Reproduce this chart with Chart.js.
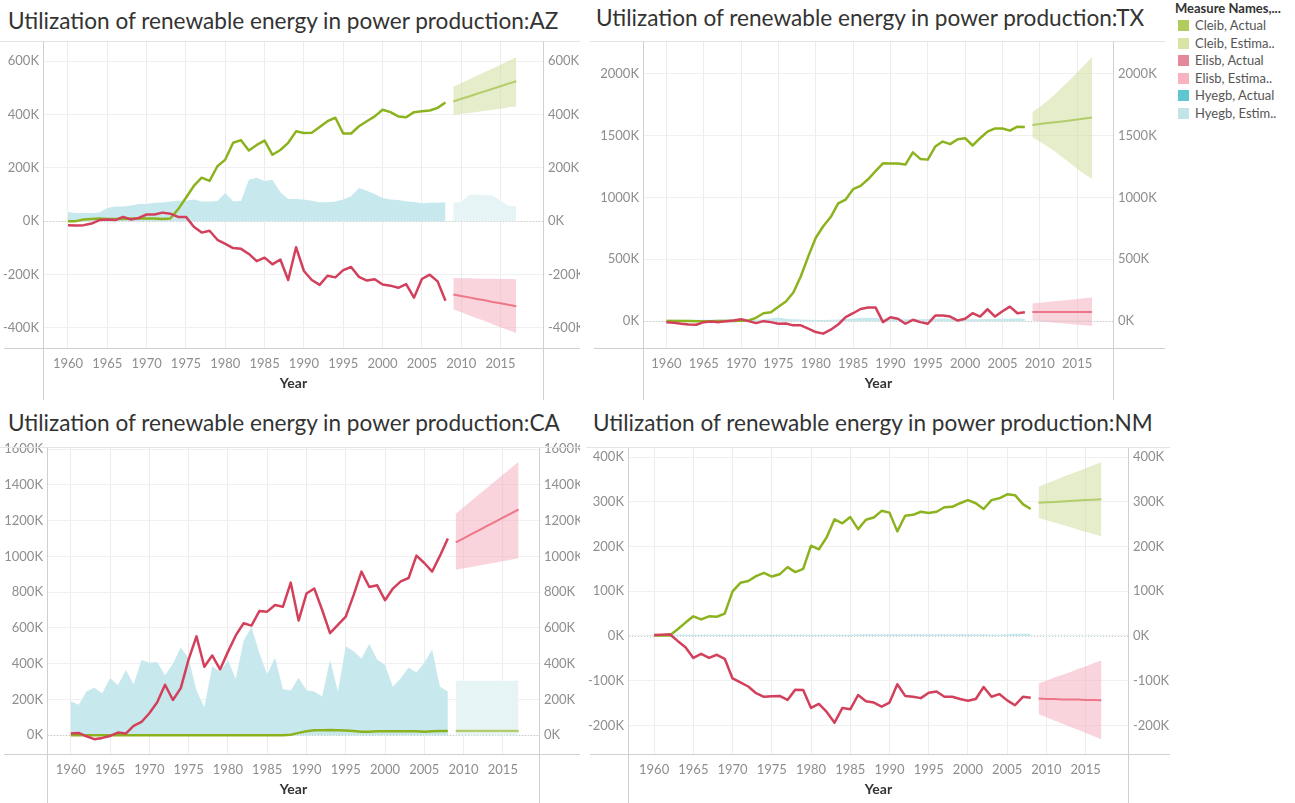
<!DOCTYPE html>
<html>
<head>
<meta charset="utf-8">
<title>Utilization of renewable energy in power production</title>
<script src="https://cdn.jsdelivr.net/npm/chart.js@4.4.1/dist/chart.umd.min.js"></script>
<style>
  body { margin: 0; width: 1295px; height: 803px; overflow: hidden; background: #fff; position: relative; font-family: Lato, 'Open Sans', sans-serif; }
  .title { position: absolute; font-size: 22.6px; line-height: 26px; color: #333; white-space: nowrap; }
  canvas { position: absolute; }
  #legend { position: absolute; left: 1175px; top: 0px; font-size: 13px; color: #555; }
  #legend .head { font-weight: bold; color: #333; height: 17px; line-height: 17px; }
  #legend .item { height: 17.5px; line-height: 17.5px; white-space: nowrap; }
  #legend .sw { display: inline-block; width: 11px; height: 11px; margin: 0 6px 0 3px; vertical-align: -1px; }
</style>
</head>
<body>
<div class="title" style="left:8px; top:8px;">Utilization of renewable energy in power production:AZ</div>
<div class="title" style="left:596px; top:5px;">Utilization of renewable energy in power production:TX</div>
<div class="title" style="left:8px; top:410px;">Utilization of renewable energy in power production:CA</div>
<div class="title" style="left:593px; top:410px;">Utilization of renewable energy in power production:NM</div>
<canvas id="azChart" width="580" height="371" style="left:0px; top:29px;"></canvas>
<canvas id="txChart" width="575" height="371" style="left:590px; top:29px;"></canvas>
<canvas id="caChart" width="580" height="371" style="left:0px; top:435px;"></canvas>
<canvas id="nmChart" width="584" height="371" style="left:586px; top:435px;"></canvas>
<div id="legend"></div>
<script>
// Years
const years = [1960, 1961, 1962, 1963, 1964, 1965, 1966, 1967, 1968, 1969,
  1970, 1971, 1972, 1973, 1974, 1975, 1976, 1977, 1978, 1979,
  1980, 1981, 1982, 1983, 1984, 1985, 1986, 1987, 1988, 1989,
  1990, 1991, 1992, 1993, 1994, 1995, 1996, 1997, 1998, 1999,
  2000, 2001, 2002, 2003, 2004, 2005, 2006, 2007, 2008];
const estYears = [2009, 2010, 2011, 2012, 2013, 2014, 2015, 2016, 2017];
const yearTicks = [1960, 1965, 1970, 1975, 1980, 1985, 1990, 1995, 2000, 2005, 2010, 2015];

// AZ (values in thousands)
const azCleib = [0, 0, 6, 8, 10, 8, 8, 8, 10, 10, 10, 10, 8, 10, 44, 88, 132, 163, 151, 206,
  231, 294, 304, 265, 286, 302, 249, 267, 294, 337, 331, 332, 353, 375, 388, 329, 329, 356, 375, 393,
  418, 409, 393, 390, 409, 412, 415, 425, 445];
const azElisb = [-15, -16, -15, -9, 4, 6, 4, 16, 6, 12, 25, 25, 32, 28, 16, 16, -21, -43, -36, -70,
  -85, -101, -104, -123, -150, -137, -162, -144, -221, -98, -187, -221, -239, -205, -211, -184, -172, -209, -223, -218,
  -238, -242, -250, -236, -287, -217, -201, -226, -299];
const azHyegb = [34, 31, 31, 31, 32, 49, 55, 55, 59, 64, 64, 69, 70, 74, 77, 77, 81, 74, 74, 76,
  106, 75, 76, 155, 163, 151, 155, 108, 83, 83, 81, 77, 71, 71, 74, 81, 93, 124, 114, 102,
  87, 81, 79, 75, 72, 67, 69, 69, 71];
const azCleibEst = [449, 459, 468, 478, 487, 497, 506, 516, 525];
const azCleibHi = [504, 518, 532, 546, 560, 573, 587, 601, 615];
const azCleibLo = [399, 403, 406, 410, 414, 418, 422, 427, 431];
const azElisbEst = [-275, -281, -286, -292, -297, -303, -308, -314, -319];
const azElisbHi = [-213, -214, -214, -215, -216, -216, -217, -217, -218];
const azElisbLo = [-331, -342, -353, -364, -375, -387, -398, -409, -420];
const azHyegbEst = [69, 71, 98, 100, 98, 96, 77, 59, 56];
const azTicks = [-400, -200, 0, 200, 400, 600];

// TX
const txCleib = [2, 2, 1, 1, 0, 0, 0, 1, 1, 2, 3, 5, 27, 64, 72, 117, 159, 231, 363, 523,
  674, 767, 841, 952, 982, 1066, 1093, 1146, 1212, 1275, 1273, 1273, 1265, 1364, 1311, 1305, 1411, 1451, 1430, 1470,
  1478, 1419, 1478, 1531, 1557, 1557, 1539, 1571, 1568];
const txElisb = [-8, -13, -21, -27, -29, -8, -3, -8, 0, 5, 16, 0, -16, 0, -8, -21, -19, -34, -34, -61,
  -88, -101, -69, -27, 32, 64, 98, 111, 111, -8, 32, 19, -21, 11, -8, -21, 45, 45, 37, 5,
  19, 64, 37, 96, 37, 80, 117, 64, 72];
const txHyegb = [14, 13, 12, 12, 12, 12, 12, 13, 13, 14, 14, 12, 12, 15, 22, 30, 20, 16, 14, 12,
  10, 10, 12, 14, 18, 22, 26, 28, 26, 20, 18, 16, 15, 17, 16, 18, 20, 22, 20, 18,
  16, 15, 15, 17, 18, 20, 20, 22, 20];
const txCleibEst = [1584, 1592, 1600, 1607, 1614, 1622, 1630, 1637, 1645];
const txCleibHi = [1690, 1730, 1778, 1831, 1889, 1947, 2008, 2069, 2136];
const txCleibLo = [1486, 1451, 1411, 1372, 1324, 1279, 1231, 1186, 1151];
const txElisbEst = [74, 74, 74, 74, 74, 74, 74, 74, 74];
const txElisbHi = [143, 149, 155, 161, 167, 173, 179, 185, 191];
const txElisbLo = [5, 0, -6, -12, -17, -23, -29, -34, -40];
const txHyegbEst = [8, 8, 8, 8, 8, 8, 8, 8, 8];
const txTicks = [0, 500, 1000, 1500, 2000];

// CA
const caCleib = [0, 0, 0, 0, 0, 0, 0, 0, 0, 0, 0, 0, 0, 0, 0, 0, 0, 0, 0, 0,
  0, 0, 0, 0, 0, 0, 0, 0, 3, 13, 22, 28, 28, 29, 28, 26, 23, 20, 20, 22,
  22, 22, 22, 22, 22, 20, 22, 24, 24];
const caElisb = [9, 13, -6, -22, -15, -4, 15, 9, 52, 74, 123, 184, 282, 197, 263, 424, 553, 383, 446, 368,
  466, 558, 626, 613, 694, 691, 728, 718, 853, 641, 792, 820, 700, 571, 617, 663, 783, 915, 829, 838,
  755, 820, 860, 879, 1004, 963, 915, 1004, 1100];
const caHyegb = [190, 170, 245, 265, 235, 320, 280, 365, 285, 420, 405, 410, 335, 400, 490, 430, 250, 155, 385, 355,
  420, 315, 530, 605, 460, 340, 435, 258, 250, 322, 252, 245, 216, 424, 245, 497, 470, 429, 510, 424,
  392, 271, 319, 378, 350, 405, 479, 271, 245];
const caCleibEst = [24, 24, 24, 24, 24, 24, 24, 24, 24];
const caCleibHi = [33, 33, 33, 33, 33, 33, 33, 33, 33];
const caCleibLo = [16, 16, 16, 16, 16, 16, 16, 16, 16];
const caElisbEst = [1078, 1101, 1124, 1147, 1170, 1193, 1216, 1239, 1262];
const caElisbHi = [1238, 1274, 1311, 1347, 1384, 1420, 1456, 1493, 1529];
const caElisbLo = [925, 933, 941, 949, 957, 965, 973, 981, 989];
const caHyegbEst = [304, 304, 304, 304, 304, 304, 304, 304, 304];
const caTicks = [0, 200, 400, 600, 800, 1000, 1200, 1400, 1600];

// NM
const nmCleib = [1, 1, 1, 15, 30, 44, 37, 44, 43, 50, 100, 119, 123, 134, 141, 133, 138, 154, 143, 150,
  202, 194, 221, 261, 252, 266, 239, 260, 265, 280, 276, 234, 269, 271, 278, 275, 278, 288, 289, 297,
  304, 297, 284, 304, 308, 317, 315, 295, 284];
const nmElisb = [2, 3, 4, -11, -25, -49, -40, -49, -42, -51, -95, -104, -113, -128, -136, -135, -134, -143, -120, -121,
  -161, -152, -170, -194, -161, -164, -132, -146, -149, -158, -149, -108, -134, -136, -139, -127, -124, -136, -136, -141,
  -145, -141, -114, -136, -130, -144, -155, -136, -138];
const nmHyegb = [3, 3, 3, 3, 3, 3, 3, 3, 3, 3, 3, 3, 3, 3, 3, 3, 3, 3, 3, 3,
  3, 3, 3, 3, 3, 3, 4, 4, 4, 4, 4, 4, 4, 4, 4, 4, 4, 4, 4, 4,
  4, 4, 4, 3, 3, 4, 5, 5, 5];
const nmCleibEst = [298, 299, 300, 301, 302, 303, 304, 305, 306];
const nmCleibHi = [334, 341, 348, 355, 362, 368, 375, 382, 389];
const nmCleibLo = [264, 259, 254, 249, 244, 238, 233, 228, 223];
const nmElisbEst = [-140, -141, -141, -142, -142, -142, -143, -143, -144];
const nmElisbHi = [-106, -100, -93, -87, -81, -74, -68, -61, -55];
const nmElisbLo = [-175, -182, -189, -196, -203, -210, -217, -224, -231];
const nmHyegbEst = [3, 3, 3, 3, 3, 3, 3, 3, 3];
const nmTicks = [-200, -100, 0, 100, 200, 300, 400];

// Legend entries
const legendNames = ['Cleib, Actual', 'Cleib, Estima..', 'Elisb, Actual', 'Elisb, Estima..', 'Hyegb, Actual', 'Hyegb, Estim..'];
const legendColors = ['#b1cb5c', '#d8e3a6', '#e4899a', '#f7b3bf', '#5fc5cf', '#c2e4e8'];

// Colours
const COLORS = {
  cleib: '#8cb31f',
  cleibEst: '#b3cd6a',
  cleibBand: 'rgba(205, 220, 150, 0.5)',
  elisb: '#d2405c',
  elisbEst: '#ee7689',
  elisbBand: 'rgba(244, 170, 185, 0.5)',
  hyegb: '#c7e9ee',
  hyegbEst: '#e6f4f5'
};

const TICK_FONT = { family: 'Lato', size: 13 };

function points(xs, ys) {
  return ys.map((y, i) => ({ x: xs[i], y: y }));
}

// Draws axis frame lines and the dotted zero line
const framePlugin = {
  id: 'frame',
  beforeDatasetsDraw(chart) {
    const { ctx, chartArea: a } = chart;
    const y0 = Math.round(chart.scales.y.getPixelForValue(0)) + 0.5;
    ctx.save();
    ctx.strokeStyle = '#c8c8c8';
    ctx.lineWidth = 1;
    ctx.setLineDash([1, 2]);
    ctx.beginPath();
    ctx.moveTo(a.left, y0);
    ctx.lineTo(a.right, y0);
    ctx.stroke();
    ctx.restore();
  },
  afterDraw(chart) {
    const { ctx, chartArea: a, width, height } = chart;
    ctx.save();
    ctx.lineWidth = 1;
    ctx.strokeStyle = '#e4e4e4';
    ctx.beginPath();
    ctx.moveTo(0, Math.round(a.top) - 0.5);
    ctx.lineTo(width, Math.round(a.top) - 0.5);
    ctx.stroke();
    ctx.strokeStyle = '#d0d0d0';
    ctx.beginPath();
    ctx.moveTo(4, Math.round(a.bottom) + 0.5);
    ctx.lineTo(width, Math.round(a.bottom) + 0.5);
    ctx.moveTo(Math.round(a.left) - 0.5, a.top);
    ctx.lineTo(Math.round(a.left) - 0.5, height);
    ctx.moveTo(Math.round(a.right) + 0.5, a.top);
    ctx.lineTo(Math.round(a.right) + 0.5, height);
    ctx.stroke();
    ctx.restore();
  }
};

function renderPanel(canvasId, cfg) {
  const ctx = document.getElementById(canvasId).getContext('2d');
  const line = (data, color, width) => ({
    data: data, borderColor: color, borderWidth: width, pointRadius: 0,
    fill: false, tension: 0, borderJoinStyle: 'round'
  });
  const band = (data, color, fillTo) => ({
    data: data, borderWidth: 0, pointRadius: 0, tension: 0,
    backgroundColor: color, fill: fillTo
  });

  // First dataset is drawn on top
  const datasets = [
    line(points(years, cfg.elisb), COLORS.elisb, 2.5),
    line(points(years, cfg.cleib), COLORS.cleib, 2.5),
    line(points(estYears, cfg.elisbEst), COLORS.elisbEst, 2),
    line(points(estYears, cfg.cleibEst), COLORS.cleibEst, 2),
    band(points(estYears, cfg.elisbHi), COLORS.elisbBand, '+1'),
    band(points(estYears, cfg.elisbLo), COLORS.elisbBand, false),
    band(points(estYears, cfg.cleibHi), COLORS.cleibBand, '+1'),
    band(points(estYears, cfg.cleibLo), COLORS.cleibBand, false),
    band(points(estYears, cfg.hyegbEst), COLORS.hyegbEst, 'origin'),
    band(points(years, cfg.hyegb), COLORS.hyegb, 'origin')
  ];

  const yAxis = (pos, width) => ({
    type: 'linear',
    position: pos,
    min: cfg.yMin,
    max: cfg.yMax,
    afterBuildTicks: (s) => { s.ticks = cfg.yTicks.map(v => ({ value: v })); },
    afterFit: (s) => { s.width = width; },
    grid: { display: pos === 'left', color: '#f0f0f0', drawTicks: false },
    border: { display: false },
    ticks: {
      color: '#8e8e8e', font: TICK_FONT, padding: 5,
      callback: (v) => v + 'K'
    }
  });

  return new Chart(ctx, {
    type: 'line',
    data: { datasets: datasets },
    options: {
      responsive: false,
      animation: false,
      layout: { padding: { top: 8, bottom: 0, left: 0, right: 0 } },
      plugins: {
        legend: { display: false },
        tooltip: { enabled: false },
        filler: { propagate: false }
      },
      scales: {
        x: {
          type: 'linear',
          min: cfg.xMin,
          max: cfg.xMax,
          afterBuildTicks: (s) => { s.ticks = yearTicks.map(v => ({ value: v })); },
          afterFit: (s) => { s.height = 52; },
          grid: { color: '#ececec', drawTicks: false },
          border: { display: false },
          ticks: { color: '#8e8e8e', font: TICK_FONT, padding: 8, maxRotation: 0, callback: (v) => String(v) },
          title: {
            display: true, text: 'Year', color: '#333',
            font: { family: 'Lato', size: 14, weight: 'bold' },
            padding: { top: 4, bottom: 8 }
          }
        },
        y: yAxis('left', cfg.leftW),
        y2: yAxis('right', cfg.rightW)
      }
    },
    plugins: [framePlugin]
  });
}

function renderLegend() {
  const el = document.getElementById('legend');
  let html = '<div class="head">Measure Names,...</div>';
  legendNames.forEach((name, i) => {
    html += '<div class="item"><span class="sw" style="background:' + legendColors[i] + '"></span>' + name + '</div>';
  });
  el.innerHTML = html;
}

function initializeCharts() {
  renderPanel('azChart', {
    cleib: azCleib, elisb: azElisb, hyegb: azHyegb,
    cleibEst: azCleibEst, cleibHi: azCleibHi, cleibLo: azCleibLo,
    elisbEst: azElisbEst, elisbHi: azElisbHi, elisbLo: azElisbLo, hyegbEst: azHyegbEst,
    yTicks: azTicks, yMin: -476, yMax: 673, xMin: 1956.95, xMax: 2020.4, leftW: 44, rightW: 37
  });
  renderPanel('txChart', {
    cleib: txCleib, elisb: txElisb, hyegb: txHyegb,
    cleibEst: txCleibEst, cleibHi: txCleibHi, cleibLo: txCleibLo,
    elisbEst: txElisbEst, elisbHi: txElisbHi, elisbLo: txElisbLo, hyegbEst: txHyegbEst,
    yTicks: txTicks, yMin: -217, yMax: 2257, xMin: 1957, xMax: 2019.8, leftW: 54, rightW: 52
  });
  renderPanel('caChart', {
    cleib: caCleib, elisb: caElisb, hyegb: caHyegb,
    cleibEst: caCleibEst, cleibHi: caCleibHi, cleibLo: caCleibLo,
    elisbEst: caElisbEst, elisbHi: caElisbHi, elisbLo: caElisbLo, hyegbEst: caHyegbEst,
    yTicks: caTicks, yMin: -105, yMax: 1607, xMin: 1957.1, xMax: 2019.6, leftW: 48, rightW: 41
  });
  renderPanel('nmChart', {
    cleib: nmCleib, elisb: nmElisb, hyegb: nmHyegb,
    cleibEst: nmCleibEst, cleibHi: nmCleibHi, cleibLo: nmCleibLo,
    elisbEst: nmElisbEst, elisbHi: nmElisbHi, elisbLo: nmElisbLo, hyegbEst: nmHyegbEst,
    yTicks: nmTicks, yMin: -264, yMax: 421, xMin: 1956.8, xMax: 2020.4, leftW: 43, rightW: 42
  });
  renderLegend();
}

if (document.readyState === 'loading') {
  document.addEventListener('DOMContentLoaded', initializeCharts);
} else {
  initializeCharts();
}
</script>
</body>
</html>
